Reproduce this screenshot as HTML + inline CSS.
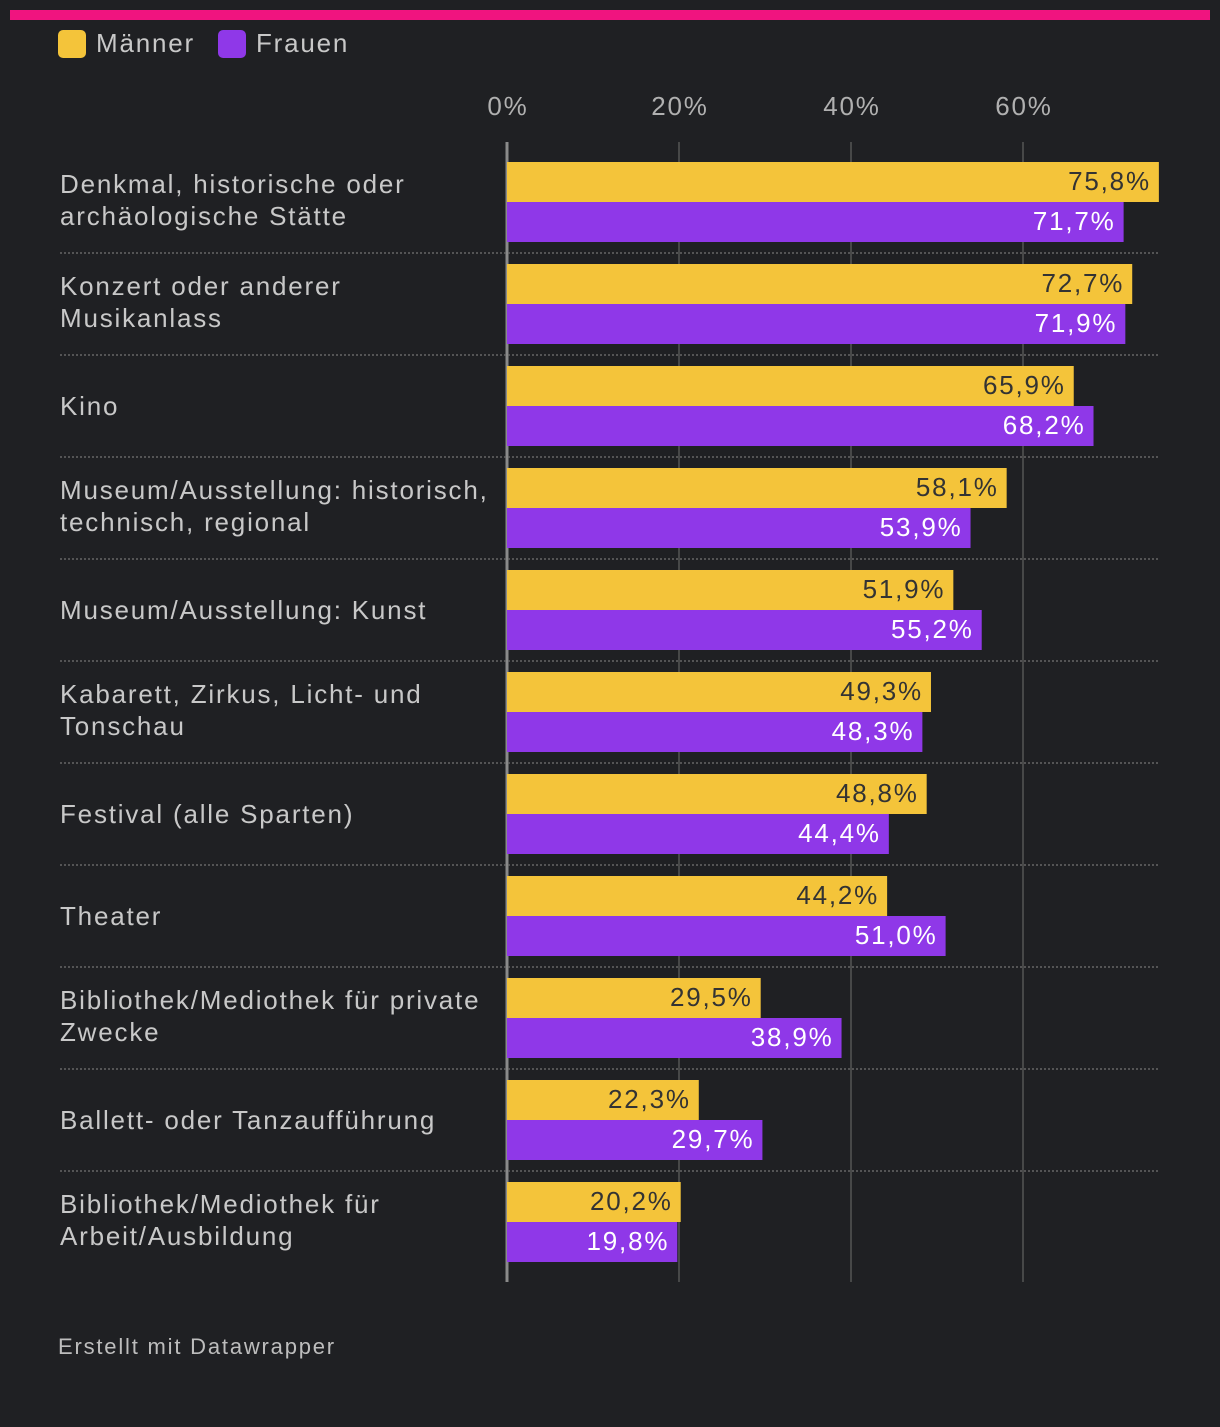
<!DOCTYPE html>
<html><head><meta charset="utf-8"><style>
body{margin:0;background:#1f2023;width:1220px;height:1422px;overflow:hidden;font-family:"Liberation Sans",sans-serif}
text{letter-spacing:1.8px}
</style></head><body>
<svg id="chart" width="1220" height="1422" xmlns="http://www.w3.org/2000/svg">
<rect x="0" y="0" width="1220" height="1422" fill="#1f2023"/>
<rect x="10" y="10" width="1200" height="10" fill="#f0147f"/>
<g>
<rect x="58" y="30" width="28" height="28" rx="5" fill="#f4c43a"/>
<text x="96" y="52" font-size="26" fill="#c8c8c8">Männer</text>
<rect x="218" y="30" width="28" height="28" rx="5" fill="#8f38e8"/>
<text x="256" y="52" font-size="26" fill="#c8c8c8">Frauen</text>
</g>
<g id="grid"></g><g id="rows"></g>
<text x="58" y="1354" font-size="22" fill="#bdbdbd">Erstellt mit Datawrapper</text>
</svg>
<script>
const categories=[["Denkmal, historische oder","archäologische Stätte"],["Konzert oder anderer","Musikanlass"],["Kino"],["Museum/Ausstellung: historisch,","technisch, regional"],["Museum/Ausstellung: Kunst"],["Kabarett, Zirkus, Licht- und","Tonschau"],["Festival (alle Sparten)"],["Theater"],["Bibliothek/Mediothek für private","Zwecke"],["Ballett- oder Tanzaufführung"],["Bibliothek/Mediothek für","Arbeit/Ausbildung"]];
const maenner=[75.8,72.7,65.9,58.1,51.9,49.3,48.8,44.2,29.5,22.3,20.2];
const frauen=[71.7,71.9,68.2,53.9,55.2,48.3,44.4,51.0,38.9,29.7,19.8];
const ticks=[0,20,40,60];
const NS="http://www.w3.org/2000/svg";
const x=v=>507+v*8.6;
const rowY=i=>162+i*102;
function mk(t,a,p){const e=document.createElementNS(NS,t);for(const k in a)e.setAttribute(k,a[k]);p.appendChild(e);return e;}
const grid=document.getElementById('grid'),rows=document.getElementById('rows');
ticks.forEach(t=>{
 const l=mk('line',{x1:x(t),x2:x(t),y1:142,y2:1282,stroke:t===0?'#8a8a8a':'#555',"stroke-width":t===0?3:1.5},grid);
 
 
 const tx=mk('text',{x:x(t)+1,y:115,"font-size":26,fill:'#b0b0b0',"text-anchor":"middle"},grid);
 tx.textContent=t+'%';
 
 
});
const fmt=v=>v.toFixed(1).replace('.',',')+'%';
categories.forEach((c,i)=>{
 const y=rowY(i);
 const lab=mk('text',{x:60,"font-size":26,fill:'#c8c8c8'},rows);
 
 
 const ly=c.length===1?y+49:y+31;
 c.forEach((s,k)=>{const ts=mk('tspan',{x:60,y:ly+k*32},lab);ts.textContent=s;});
 [[maenner,'#f4c43a','#333','maenner'],[frauen,'#8f38e8','#fff','frauen']].forEach(([arr,col,tc,nm],j)=>{
  const r=mk('rect',{x:x(0),y:y+j*40,width:x(arr[i])-x(0),height:40,fill:col},rows);
  
  
  const t=mk('text',{x:x(arr[i])-8,y:y+j*40+28,"font-size":26,fill:tc,"text-anchor":"end"},rows);
  t.textContent=fmt(arr[i]);
  
  
 });
 if(i<categories.length-1){
  const s=mk('line',{x1:60,x2:1160,y1:y+91,y2:y+91,stroke:'#666',"stroke-width":1.5,"stroke-dasharray":"2,2"},rows);
  
  
 }
});
</script>
</body></html>
